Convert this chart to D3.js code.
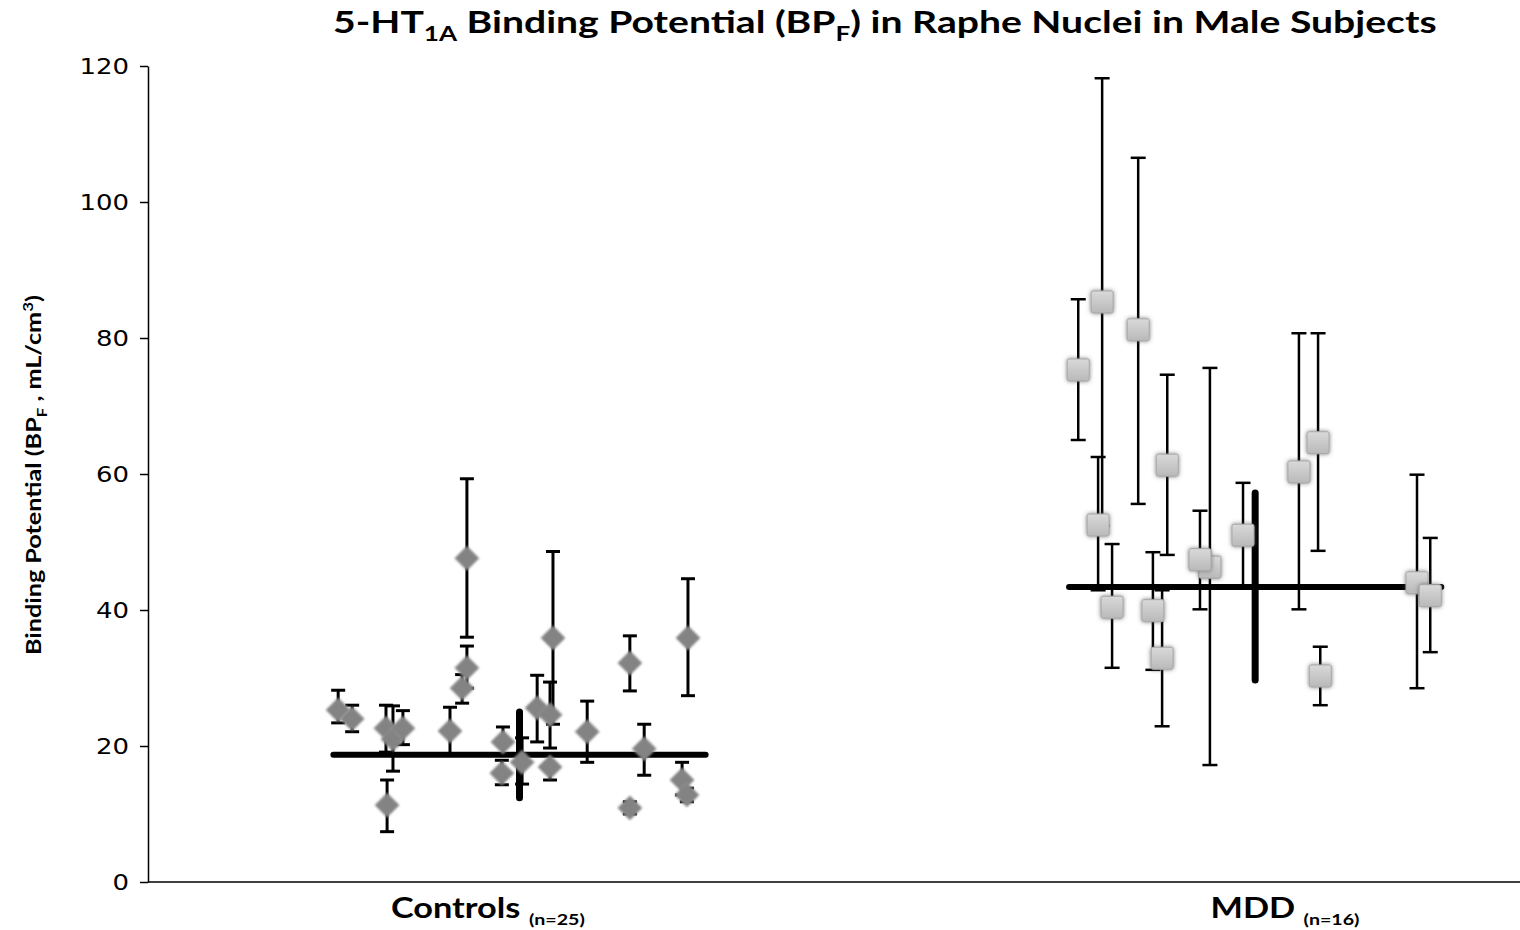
<!DOCTYPE html>
<html><head><meta charset="utf-8">
<script src="https://cdn.jsdelivr.net/npm/d3@7"></script>
<style>body{margin:0;background:#fff;} svg{display:block;}</style>
</head><body><svg id="c" width="1520" height="930"></svg>
<script>
// ---------- data ----------
const categories = ["Controls", "MDD"];
const groupN = ["(n=25)", "(n=16)"];
const categoryCenter = [1, 3];
const categoryLabelX = [0.914, 3.081];
const groupMean = [18.7, 43.4];
const groupSDLow = [12.4, 29.7];
const groupSDHigh = [25.0, 57.2];
const yTicks = [0, 20, 40, 60, 80, 100, 120];

const controlsX    = [0.507,0.545,0.640,0.637,0.656,0.683,0.811,0.844,0.857,0.857,0.955,0.952,1.007,1.048,1.083,1.091,1.083,1.184,1.300,1.300,1.339,1.458,1.442,1.455];
const controlsVal  = [25.3, 24.0, 11.3, 22.6, 21.0, 22.6, 22.2, 28.5, 31.5, 47.6, 20.6, 16.0, 17.6, 25.6, 24.6, 35.9, 16.9, 22.1, 32.2, 10.9, 19.6, 35.9, 15.0, 12.8];
const controlsLow  = [23.4, 22.1,  7.4, 19.1, 16.3, 20.2, 18.7, 26.3, 28.5, 36.0, 18.7, 14.3, 14.4, 20.6, 19.7, 23.2, 15.0, 17.6, 28.1, 10.0, 15.7, 27.4, 12.8, 11.8];
const controlsHigh = [28.2, 26.0, 15.0, 26.0, 25.9, 25.2, 25.7, 30.5, 34.7, 59.3, 22.8, 17.9, 21.2, 30.4, 29.4, 48.6, 18.8, 26.6, 36.2, 11.8, 23.2, 44.6, 17.6, 13.8];

const mddX    = [2.519,2.584,2.573,2.682,2.761,2.877,2.850,2.611,2.722,2.747,2.967,3.119,3.171,3.177,3.440,3.476];
const mddVal  = [75.3, 85.3, 52.5, 81.2, 61.3, 46.3, 47.4, 40.4, 39.9, 32.9, 51.0, 60.3, 64.6, 30.3, 44.0, 42.1];
const mddLow  = [65.0, 52.4, 42.9, 55.6, 48.1, 17.2, 40.1, 31.5, 31.2, 22.9, 43.4, 40.1, 48.7, 26.0, 28.5, 33.8];
const mddHigh = [85.7,118.2, 62.5,106.5, 74.6, 75.6, 54.6, 49.7, 48.5, 42.9, 58.7, 80.7, 80.7, 34.6, 59.9, 50.6];

// ---------- setup ----------
const svg = d3.select("#c");
const x = d3.scaleLinear().domain([-0.01, 3.72]).range([148, 1520]);
const y = d3.scaleLinear().domain([0, 120]).range([882, 66]);

const defs = svg.append("defs");
const blur = defs.append("filter").attr("id","soft").attr("x","-50%").attr("y","-50%").attr("width","200%").attr("height","200%");
blur.append("feGaussianBlur").attr("stdDeviation",1.2);

const sh = defs.append("filter").attr("id","shadow").attr("x","-50%").attr("y","-50%").attr("width","200%").attr("height","200%");
sh.append("feGaussianBlur").attr("in","SourceAlpha").attr("stdDeviation",2).attr("result","b");
sh.append("feFlood").attr("flood-color","#555").attr("flood-opacity",0.75).attr("result","f");
sh.append("feComposite").attr("in","f").attr("in2","b").attr("operator","in").attr("result","s");
const mg = sh.append("feMerge");
mg.append("feMergeNode").attr("in","s");
mg.append("feMergeNode").attr("in","SourceGraphic");

const grad = defs.append("linearGradient").attr("id","sqg").attr("x1",0).attr("y1",0).attr("x2",0).attr("y2",1);
grad.append("stop").attr("offset","0%").attr("stop-color","#d9d9d9");
grad.append("stop").attr("offset","100%").attr("stop-color","#b9b9b9");

// ---------- axes ----------
const yAxis = svg.append("g").attr("transform",`translate(${x(-0.01)},0)`)
  .call(d3.axisLeft(y).tickValues(yTicks).tickSize(8).tickSizeOuter(0).tickPadding(11));
yAxis.select(".domain").attr("stroke","#000").attr("stroke-width",1.5);
yAxis.selectAll(".tick line").attr("stroke","#000").attr("stroke-width",1.5);
yAxis.selectAll(".tick text").attr("font-family","DejaVu Sans, Verdana, sans-serif").attr("font-size",22).attr("fill","#000")
  .each(function(){
    const w = this.getComputedTextLength();
    d3.select(this).attr("textLength", w*1.18).attr("lengthAdjust","spacingAndGlyphs");
  });

svg.append("line").attr("x1",x(-0.01)).attr("x2",x(3.72)).attr("y1",y(0)).attr("y2",y(0))
  .attr("stroke","#000").attr("stroke-width",1.5);

// ---------- group mean lines ----------
const meanHalf = 0.506;
const plot = svg.append("g");
categories.forEach((c,i)=>{
  plot.append("line").attr("x1",x(categoryCenter[i]-meanHalf)).attr("x2",x(categoryCenter[i]+meanHalf))
    .attr("y1",y(groupMean[i])).attr("y2",y(groupMean[i]))
    .attr("stroke","#000").attr("stroke-width",6).attr("stroke-linecap","round");
  plot.append("line").attr("x1",x(categoryCenter[i])).attr("x2",x(categoryCenter[i]))
    .attr("y1",y(groupSDLow[i])).attr("y2",y(groupSDHigh[i]))
    .attr("stroke","#000").attr("stroke-width",7).attr("stroke-linecap","round");
});

// ---------- error bars ----------
function errorBars(xs, lo, hi, sw, capW){
  const g = plot.append("g").attr("stroke","#000").attr("stroke-width",sw);
  xs.forEach((xv,i)=>{
    const px = x(xv);
    g.append("line").attr("x1",px).attr("x2",px).attr("y1",y(lo[i])).attr("y2",y(hi[i]));
    g.append("line").attr("x1",px-capW/2).attr("x2",px+capW/2).attr("y1",y(lo[i])).attr("y2",y(lo[i]));
    g.append("line").attr("x1",px-capW/2).attr("x2",px+capW/2).attr("y1",y(hi[i])).attr("y2",y(hi[i]));
  });
}
errorBars(controlsX, controlsLow, controlsHigh, 3, 14);
errorBars(mddX, mddLow, mddHigh, 2.5, 15);

// ---------- markers ----------
plot.append("g").selectAll("path").data(controlsX).join("path")
  .attr("d","M0,-12L12,0L0,12L-12,0Z")
  .attr("transform",(d,i)=>`translate(${x(d)},${y(controlsVal[i])})`)
  .attr("fill","#838383").attr("stroke","#959595").attr("stroke-width",1)
  .attr("filter","url(#soft)");

plot.append("g").selectAll("rect").data(mddX).join("rect")
  .attr("x",d=>x(d)-11).attr("y",(d,i)=>y(mddVal[i])-11)
  .attr("width",22).attr("height",22).attr("rx",2)
  .attr("fill","url(#sqg)").attr("stroke","#a8a8a8").attr("stroke-width",1)
  .attr("filter","url(#shadow)");

// ---------- text ----------
function fitWidth(sel, target){
  const w = sel.node().getBBox().width;
  return target / w;
}

// title
const title = svg.append("text").attr("font-family","Lato, 'Open Sans', sans-serif").attr("font-weight","bold")
  .attr("font-size",30).attr("fill","#000").attr("text-anchor","start");
title.append("tspan").text("5-HT");
title.append("tspan").attr("font-size",20).attr("dy",8).text("1A");
title.append("tspan").attr("dy",-8).text(" Binding Potential (BP");
title.append("tspan").attr("font-size",20).attr("dy",8).text("F");
title.append("tspan").attr("dy",-8).text(") in Raphe Nuclei in Male Subjects");
{
  const s = fitWidth(title, 1104);
  title.attr("transform",`translate(333,33) scale(${s},1)`);
}

// y label
const yl = svg.append("text").attr("font-family","Lato, 'Open Sans', sans-serif").attr("font-weight","bold")
  .attr("font-size",21).attr("fill","#000");
yl.append("tspan").text("Binding Potential (BP");
yl.append("tspan").attr("font-size",14).attr("dy",6).text("F");
yl.append("tspan").attr("dy",-6).text(" , mL/cm");
yl.append("tspan").attr("font-size",14).attr("dy",-8).text("3");
yl.append("tspan").attr("dy",8).text(")");
{
  const s = fitWidth(yl, 360);
  yl.attr("transform",`translate(41,655) rotate(-90) scale(${s},1)`);
}

// category labels
let catScale = null;
categories.forEach((c,i)=>{
  const t = svg.append("text").attr("font-family","Lato, 'Open Sans', sans-serif").attr("font-weight","bold")
    .attr("font-size",28).attr("fill","#000").attr("text-anchor","middle");
  t.append("tspan").text(c);
  t.append("tspan").attr("font-size",16).attr("dx",7).attr("dy",7).text(groupN[i]);
  if (catScale === null) catScale = fitWidth(t, 194);
  t.attr("transform",`translate(${x(categoryLabelX[i])},918) scale(${catScale},1)`);
});
</script></body></html>
